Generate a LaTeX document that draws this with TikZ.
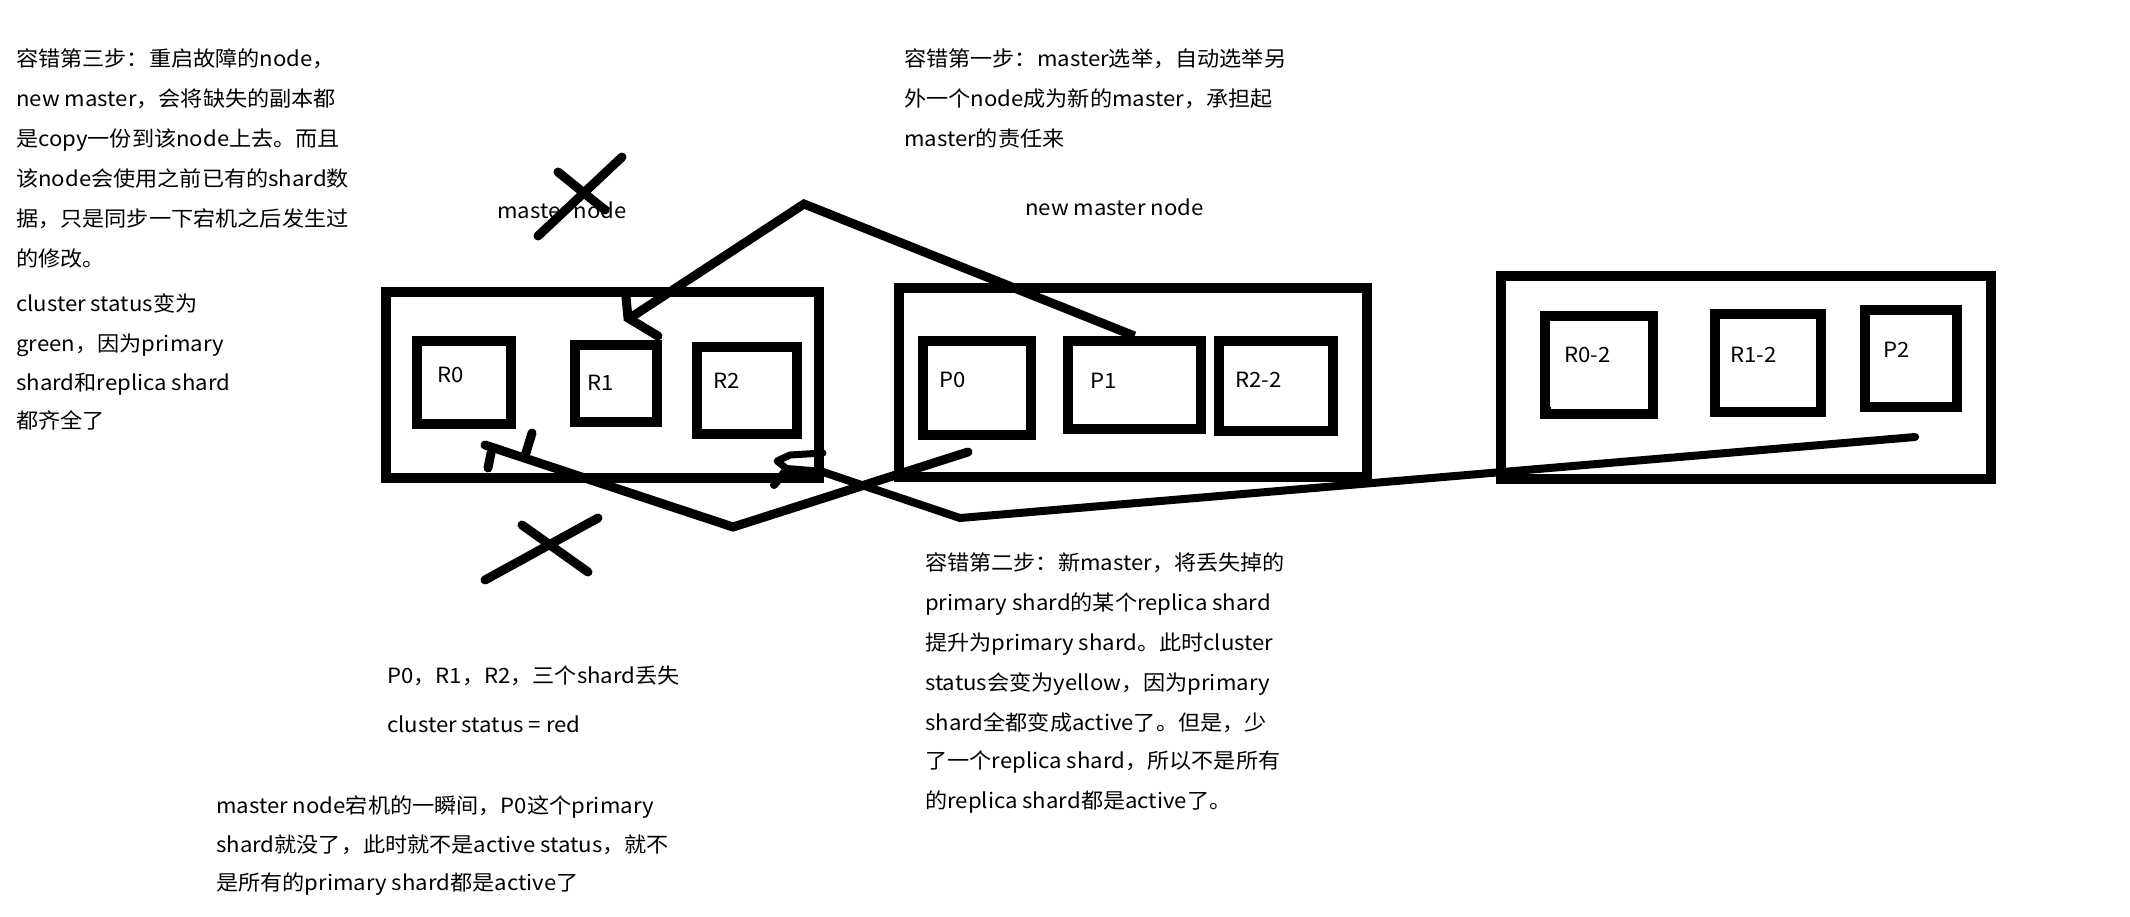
\documentclass[tikz,border=0pt]{standalone}
\usepackage{fontspec}
\newfontfamily\cjk[FakeStretch=1.055]{Noto Sans CJK SC}
\usetikzlibrary{fit}
\begin{document}
\begin{tikzpicture}[x=1pt,y=-1pt,
  txt/.style={font=\cjk\fontsize{21}{25}\selectfont, anchor=base west, inner sep=0pt, text=black},
  nodebox/.style={draw, line width=10pt, inner sep=0pt, line join=miter},
  shardbox/.style={draw, line width=10pt, inner sep=0pt, line join=miter},
  stroke/.style={line width=9pt, line cap=round, line join=round},
  thinstroke/.style={line width=7pt, line cap=round, line join=round}]
\fill[white] (0,0) rectangle (2130,916);
\useasboundingbox (0,0) rectangle (2130,916);

% ---- cluster nodes ----
\node[nodebox, fit={(386,292) (819,478)}] (master) {};
\node[nodebox, fit={(899,288) (1367,477)}] (newmaster) {};
\node[nodebox, fit={(1501,276) (1991,479)}] (third) {};

% ---- shards ----
\node[shardbox, fit={(417,341) (511,424)}] (r0) {};
\node[shardbox, fit={(575,345) (657,422)}] (r1) {};
\node[shardbox, fit={(697,347) (797,434)}] (r2) {};
\node[shardbox, fit={(923,341) (1031,435)}] (p0) {};
\node[shardbox, fit={(1068,341) (1201,429)}] (p1) {};
\node[shardbox, fit={(1219,341) (1333,431)}] (r22) {};
\node[shardbox, fit={(1545,316) (1653,414)}] (r02) {};
\node[shardbox, fit={(1715,314) (1821,412)}] (r12) {};
\node[shardbox, fit={(1865,310) (1957,407)}] (p2) {};
\fill (r02.south west) ++(0,-12) rectangle ++(11,12);

% ---- shard labels ----
\node[txt] (lr0) at (437,382) {R0};
\node[txt] (lr1) at (587,390) {R1};
\node[txt] (lr2) at (713,388) {R2};
\node[txt] (lp0) at (939,387) {P0};
\node[txt] (lp1) at (1090,388) {P1};
\node[txt] (lr22) at (1235,387) {R2-2};
\node[txt] (lr02) at (1564,362) {R0-2};
\node[txt] (lr12) at (1730,362) {R1-2};
\node[txt] (lp2) at (1883,357) {P2};

% ---- node titles ----
\node[txt] (tmaster) at (497,218) {master node};
\node[txt] (tnew) at (1025,215) {new master node};

% ---- crosses ----
\draw[stroke] (538,236) -- (622,157);
\draw[stroke] (558,172) -- (605,210);
\draw[stroke] (485,580) -- (598,518);
\draw[stroke] (522,525) -- (588,572);

% ---- connector: P1 -> R1 (master election) ----
\coordinate (apex) at (804,204);
\coordinate (tip1) at (630,318);
\draw[stroke, line join=miter, line cap=butt] (p1.north) -- (apex) -- (tip1);
\draw[stroke, line join=miter] (626,297) -- (628,318) -- (658,336);

% ---- connector: P0 -> R0 ----
\coordinate (a1) at (968,452);
\coordinate (va) at (733,527);
\coordinate (tip2) at (485,445);
\draw[stroke, line join=miter] (a1) -- (va) -- (tip2);
\draw[stroke] (491,453) -- (488,468);
\draw[stroke] (525,456) -- (532,433);

% ---- connector: P2 -> R2 ----
\coordinate (b1) at (1915,437);
\coordinate (vb) at (960,518);
\coordinate (b2) at (823,472);
\coordinate (tip3) at (787,469);
\draw[thinstroke, line width=8pt, line join=miter] (b1) -- (vb) -- (b2) -- (tip3) -- (774,485);
\draw[thinstroke] (tip3) -- (777,461) -- (790,455) -- (823,453);

% ---- left text ----
\node[txt] (l1) at (16,66) {容错第三步：重启故障的node，};
\node[txt] (l2) at (16,106) {new master，会将缺失的副本都};
\node[txt] (l3) at (16,146) {是copy一份到该node上去。而且};
\node[txt] (l4) at (16,186) {该node会使用之前已有的shard数};
\node[txt] (l5) at (16,226) {据，只是同步一下宕机之后发生过};
\node[txt] (l6) at (16,266) {的修改。};
\node[txt] (l7) at (16,311) {cluster status变为};
\node[txt] (l8) at (16,351) {green，因为primary};
\node[txt] (l9) at (16,390) {shard和replica shard};
\node[txt] (l10) at (16,428) {都齐全了};

% ---- top middle text ----
\node[txt] (m1) at (904,66) {容错第一步：master选举，自动选举另};
\node[txt] (m2) at (904,106) {外一个node成为新的master，承担起};
\node[txt] (m3) at (904,146) {master的责任来};

% ---- bottom middle text ----
\node[txt] (s1) at (925,570) {容错第二步：新master，将丢失掉的};
\node[txt] (s2) at (925,610) {primary shard的某个replica shard};
\node[txt] (s3) at (925,650) {提升为primary shard。此时cluster};
\node[txt] (s4) at (925,690) {status会变为yellow，因为primary};
\node[txt] (s5) at (925,730) {shard全都变成active了。但是，少};
\node[txt] (s6) at (925,768) {了一个replica shard，所以不是所有};
\node[txt] (s7) at (925,808) {的replica shard都是active了。};

% ---- bottom left text ----
\node[txt] (b1t) at (387,683) {P0，R1，R2，三个shard丢失};
\node[txt] (b2t) at (387,732) {cluster status = red};
\node[txt] (b3t) at (216,813) {master node宕机的一瞬间，P0这个primary};
\node[txt] (b4t) at (216,852) {shard就没了，此时就不是active status，就不};
\node[txt] (b5t) at (216,890) {是所有的primary shard都是active了};
\end{tikzpicture}
\end{document}
